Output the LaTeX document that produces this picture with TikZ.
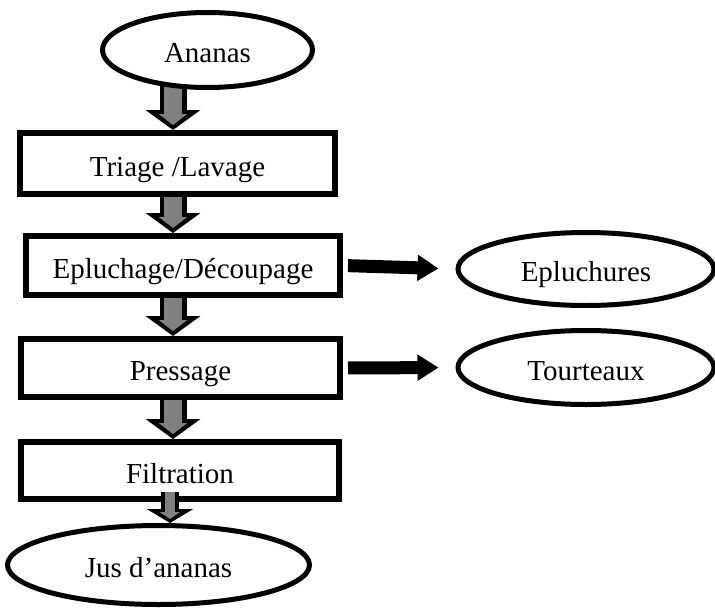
\documentclass[tikz,border=0pt]{standalone}
\usepackage{fontspec}
\setmainfont{Liberation Serif}
\usepackage{xcolor}
\usepackage{tikz}
\usetikzlibrary{arrows.meta,positioning,calc,backgrounds,shapes.geometric}
\definecolor{FlowGray}{RGB}{128,128,128}
\tikzset{
  stage/.style={rectangle,draw=black,line width=6pt,fill=white,inner sep=0pt,
                font=\fontsize{29}{34}\selectfont,text height=25pt,text depth=0pt},
  prod/.style={ellipse,draw=black,line width=5pt,fill=white,inner sep=0pt,
               font=\fontsize{29}{34}\selectfont,text height=25pt,text depth=0pt},
  feed/.style={line width=27pt,black,-{Triangle[width=54pt,length=20pt]},
               postaction={draw=FlowGray,line width=18pt,shorten >=5pt,
                           -{Triangle[width=28pt,length=11pt]}}},
  feedsmall/.style={line width=18pt,black,-{Triangle[width=46pt,length=14pt]},
               postaction={draw=FlowGray,line width=10pt,shorten >=4pt,
                           -{Triangle[width=20pt,length=7pt]}}},
  sideflow/.style={line width=13pt,black,-{Triangle[width=25pt,length=21pt]},
                   shorten <=5pt,shorten >=17pt},
}

\begin{document}
\begin{tikzpicture}[x=1pt,y=-1pt]
  \useasboundingbox (0,0) rectangle (715,610);
  \coordinate (spine) at (173,0);

  % main line
  \node[prod,minimum width=210pt,minimum height=75pt] (ananas) at (207.5,50) {Ananas};
  \node[stage,minimum width=315pt,minimum height=61pt] (triage) at (177.5,163.5) {Triage /Lavage};
  \node[stage,minimum width=314pt,minimum height=59pt] (eplu) at (183,265.5) {Epluchage/Découpage};
  \node[stage,minimum width=319pt,minimum height=58pt] (press) at (180.5,368) {Pressage};
  \node[stage,minimum width=318pt,minimum height=57pt] (filt) at (180,470.5) {Filtration};
  \node[prod,minimum width=302pt,minimum height=79pt] (jus) at (158.5,565) {Jus d’ananas};

  % by-products
  \node[prod,minimum width=256pt,minimum height=73pt] (epluch) at (586,269) {Epluchures};
  \node[prod,minimum width=256pt,minimum height=74pt] (tourt) at (586,367.5) {Tourteaux};

  \begin{scope}[on background layer]
    \draw[feed] (spine |- ananas.center) -- (triage.north -| spine);
    \draw[feed] (triage.south -| spine) -- (eplu.north -| spine);
    \draw[feed] (eplu.south -| spine) -- (press.north -| spine);
    \draw[feed] (press.south -| spine) -- (filt.north -| spine);
  \end{scope}
  \draw[feedsmall] ($(filt.south -| spine)+(-3,-10)$) -- ($(jus.north -| spine)+(-3,0)$);

  \draw[sideflow] (eplu.east) -- (epluch.west);
  \draw[sideflow] (press.east) -- (tourt.west);
\end{tikzpicture}
\end{document}
